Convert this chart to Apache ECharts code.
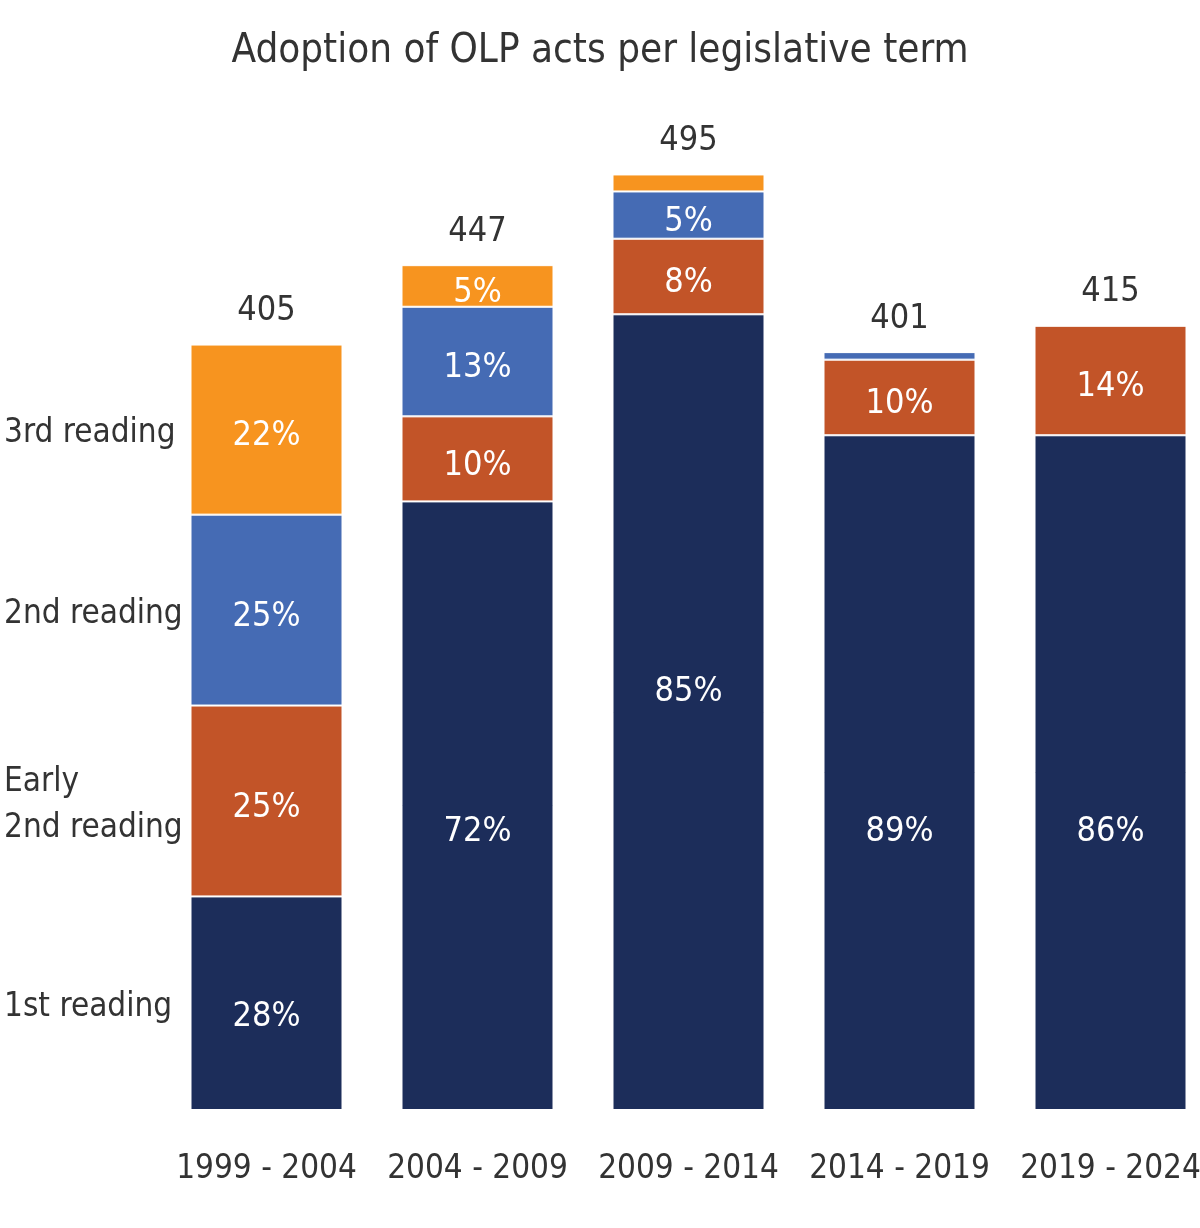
<!DOCTYPE html>
<html lang="en">
<head>
    <meta charset="utf-8">
    <title>Adoption of OLP acts</title>
    <script type="text/javascript" src="https://cdn.jsdelivr.net/npm/echarts/dist/echarts.min.js"></script>
    <style>
        html, body { margin: 0; padding: 0; background: #fff; }
    </style>
</head>
<body>
    <div id="chart" style="width: 1200px; height: 1228px;"></div>

    <script type="text/javascript" charset="utf-8">
        // legislative terms
        var terms = ['1999 - 2004', '2004 - 2009', '2009 - 2014', '2014 - 2019', '2019 - 2024'];

        // number of acts adopted at each stage
        var firstReading = [113, 322, 421, 357, 357];
        var earlySecond  = [101, 45, 40, 40, 58];
        var secondReading = [101, 58, 25, 4, 0];
        var thirdReading = [90, 22, 9, 0, 0];
        var totals = [405, 447, 495, 401, 415];

        var stageNames = ['1st reading', 'Early\n2nd reading', '2nd reading', '3rd reading'];
        var stageColors = ['#1c2d5a', '#c25428', '#456bb4', '#f7941f'];

        // the 1st reading labels are not centred in the original
        var firstLabelShift = [14, 26, -20, 60, 60];

        var font = '"DejaVu Sans Condensed", "Liberation Sans Narrow", sans-serif';

        var chart = echarts.init(document.getElementById('chart'));

        function pctLabel(p) {
            var pct = Math.round(p.value / totals[p.dataIndex] * 100);
            return pct >= 5 ? pct + '%' : '';
        }

        var stages = [firstReading, earlySecond, secondReading, thirdReading];
        var series = stages.map(function (vals, i) {
            return {
                name: stageNames[i],
                type: 'bar',
                stack: 'olp',
                barWidth: 152,
                data: vals.map(function (v, j) {
                    if (i === 0) {
                        return { value: v, label: { offset: [0, firstLabelShift[j]] } };
                    }
                    return v;
                }),
                itemStyle: { color: stageColors[i], borderColor: '#ffffff', borderWidth: 1 },
                label: {
                    show: true,
                    position: 'inside',
                    offset: [0, 7],
                    color: '#ffffff',
                    fontFamily: font,
                    fontSize: 34,
                    formatter: pctLabel
                }
            };
        });

        // invisible bar carrying the total above each column
        series.push({
            name: 'total',
            type: 'bar',
            barWidth: 152,
            barGap: '-100%',
            z: 1,
            silent: true,
            data: totals,
            itemStyle: { color: 'rgba(0,0,0,0)' },
            label: {
                show: true,
                position: 'top',
                distance: 16,
                color: '#333333',
                fontFamily: font,
                fontSize: 34
            }
        });

        chart.setOption({
            animation: false,
            title: {
                text: 'Adoption of OLP acts per legislative term',
                left: 'center',
                top: 27,
                textStyle: { color: '#333333', fontFamily: font, fontSize: 40, fontWeight: 'normal' }
            },
            grid: { left: 161, top: 165, width: 1055, height: 945, outerBoundsMode: 'none', containLabel: false },
            xAxis: {
                type: 'category',
                data: terms,
                axisLine: { show: false },
                axisTick: { show: false },
                axisLabel: { color: '#333333', fontFamily: font, fontSize: 33, margin: 43, interval: 0, hideOverlap: false }
            },
            yAxis: {
                type: 'value',
                min: 0,
                max: 500,
                show: false
            },
            series: series
        });

        // stage names on the left, centred on the segments of the first column
        var cum = 0;
        chart.setOption({
            graphic: stages.map(function (vals, i) {
                var mid = cum + vals[0] / 2;
                cum += vals[0];
                var y = chart.convertToPixel({ gridIndex: 0 }, [0, mid])[1];
                return {
                    type: 'text',
                    x: 4,
                    y: y + 4,
                    z: 10,
                    style: {
                        text: stageNames[i],
                        fill: '#333333',
                        font: '33px ' + font,
                        verticalAlign: 'middle',
                        lineHeight: 46
                    }
                };
            })
        });
    </script>
</body>
</html>
